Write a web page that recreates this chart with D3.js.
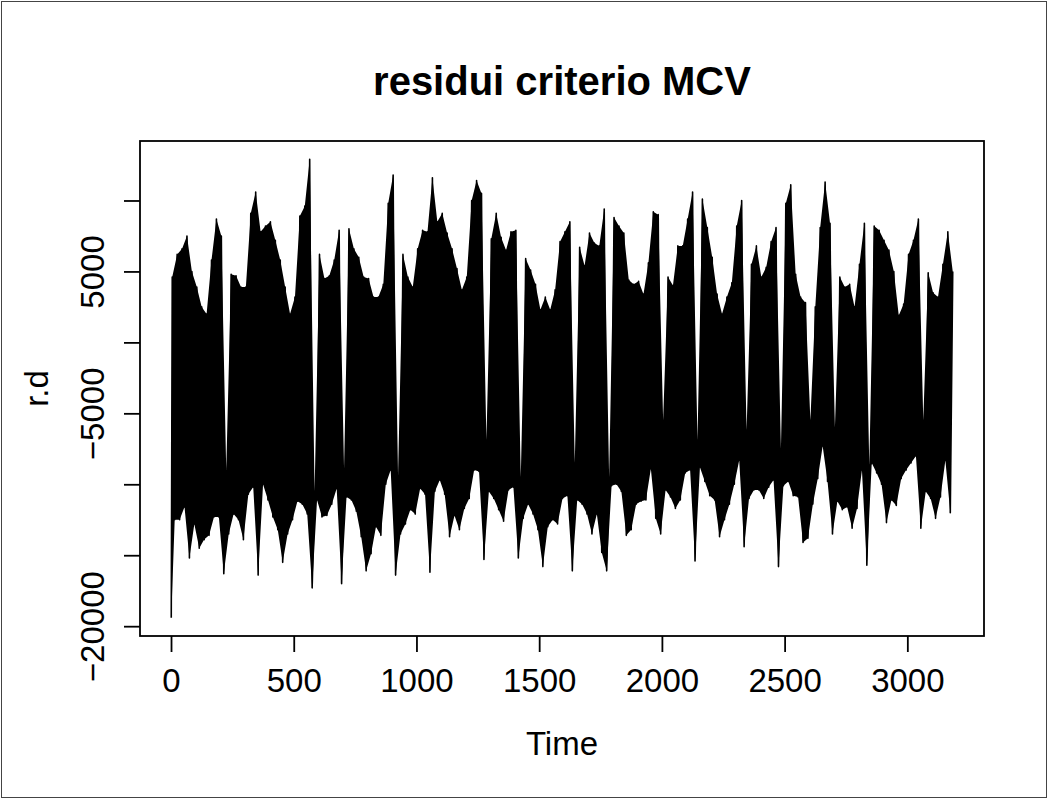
<!DOCTYPE html>
<html>
<head>
<meta charset="utf-8">
<script src="https://cdn.jsdelivr.net/npm/d3@7"></script>
<style>
body { margin: 0; background: #fff; }
svg { display: block; font-family: "Liberation Sans", Arial, Helvetica, sans-serif; }
</style>
</head>
<body>
<script>
// residui r.d: massimo e minimo ogni 20 osservazioni (in migliaia)
var peaks = [4.6, 6.2, 6.6, 7.5, 5.0, 3.9, 2.5, 2.0, 5.8, 8.7,
    7.5, -9.0, 4.8, 4.7, 3.9, 3.9, 9.1, 10.6, 7.8, 8.2,
    8.5, 7.2, 5.8, 3.9, 2.0, 3.2, 8.9, 9.6, 12.9, -10.5,
    6.2, 4.5, 4.7, 5.8, 7.9, -8.9, 8.0, 6.6, 6.0, 4.6,
    4.5, 3.2, 3.2, 4.1, 9.8, 11.8, -9.4, 6.2, 4.6, 3.9,
    6.6, 7.9, 7.8, 11.6, 8.5, 9.1, 7.7, 6.6, 5.2, 3.7,
    4.6, 10.0, 11.4, 10.5, -6.9, 7.3, 9.1, 7.4, 6.5, 7.8,
    7.9, -9.5, 5.9, 5.1, 4.1, 2.3, 3.2, 2.3, 3.7, 7.1,
    7.8, 8.5, -8.5, 6.7, 5.4, 7.7, 7.0, 6.8, 9.4, -9.5,
    8.8, 8.2, 7.7, 4.4, 4.1, 4.3, 3.4, 5.6, 9.2, 9.0,
    -5.5, 4.6, 4.0, 6.8, 6.8, 8.7, 10.6, -6.9, 10.1, 8.1,
    6.0, 3.4, 2.0, 3.2, 4.2, 8.2, 10.0, -6.2, 5.5, 6.8,
    4.6, 5.3, 7.1, 8.1, -7.5, 9.8, 11.1, 4.8, 3.2, 2.8,
    -5.5, 2.5, 8.1, 11.3, 8.4, -6.0, 4.6, 3.9, 4.1, 2.5,
    5.5, 8.4, -8.7, 8.2, 7.9, 7.2, 6.5, 5.0, 1.9, 2.7,
    6.2, 7.2, 8.7, -5.5, 4.9, 3.5, 3.2, 5.5, 7.8, 5.0
];
var troughs = [-19.4, -12.5, -12.5, -11.6, -15.2, -12.8, -14.5, -13.9, -13.6, -12.3,
    -12.3, -16.3, -13.5, -12.1, -12.5, -13.9, -10.7, -10.2, -16.4, -10.0,
    -11.1, -12.3, -13.2, -15.5, -13.5, -12.5, -11.2, -11.4, -12.1, -17.3,
    -11.1, -12.3, -12.2, -11.4, -10.3, -17.0, -10.9, -11.1, -11.9, -13.7,
    -16.1, -14.9, -13.0, -13.6, -10.0, -9.0, -16.4, -13.5, -12.8, -11.8,
    -12.1, -10.3, -10.7, -16.2, -10.5, -9.7, -10.7, -13.7, -12.2, -13.2,
    -11.7, -11.0, -9.0, -9.1, -15.3, -10.5, -11.0, -11.8, -12.6, -10.4,
    -10.2, -15.2, -12.4, -11.4, -12.1, -13.2, -15.8, -13.0, -12.5, -12.8,
    -11.0, -10.8, -16.1, -11.1, -11.4, -12.1, -13.5, -12.1, -14.8, -16.1,
    -10.1, -10.0, -10.5, -13.6, -13.2, -11.4, -11.2, -11.1, -8.9, -12.4,
    -13.5, -10.4, -10.9, -11.7, -11.1, -9.2, -9.0, -15.4, -8.8, -9.8,
    -10.8, -11.1, -13.7, -12.5, -11.4, -10.0, -8.3, -14.4, -11.0, -10.4,
    -10.4, -11.0, -10.2, -9.7, -15.8, -10.1, -9.8, -10.8, -10.9, -14.1,
    -13.8, -11.4, -9.6, -7.3, -9.8, -13.5, -11.2, -11.8, -11.6, -13.1,
    -11.7, -9.0, -15.7, -8.5, -9.2, -10.0, -12.7, -11.1, -11.5, -9.6,
    -9.0, -8.5, -8.0, -13.1, -10.5, -11.0, -12.4, -10.9, -8.3, -12.0
];
var step = 20;

var xTicks = [0, 500, 1000, 1500, 2000, 2500, 3000];
var xTickLabels = ["0", "500", "1000", "1500", "2000", "2500", "3000"];
var yTicks = [-20000, -15000, -10000, -5000, 0, 5000, 10000];
var yTickLabels = ["\u221220000", "", "", "\u22125000", "", "5000", ""];

var width = 1048;
var height = 799;
var box = {left: 140, right: 984, top: 141, bottom: 636};

// serie a zig-zag: minimo poi massimo per ogni blocco
var series = [];
var band = [];
peaks.forEach(function (p, i) {
    var tl = Math.max(1, i * step - 5);
    var th = i * step + 5;
    series.push({t: tl, v: troughs[i] * 1000});
    series.push({t: th, v: p * 1000});
    band.push({tl: tl, lo: troughs[i] * 1000, th: th, hi: p * 1000});
});

// come R: dominio allargato del 4%
var tExt = d3.extent(series, function (d) { return d.t; });
var vExt = d3.extent(series, function (d) { return d.v; });
var tPad = 0.04 * (tExt[1] - tExt[0]);
var vPad = 0.04 * (vExt[1] - vExt[0]);

var x = d3.scaleLinear()
    .domain([tExt[0] - tPad, tExt[1] + tPad])
    .range([box.left, box.right]);
var y = d3.scaleLinear()
    .domain([vExt[0] - vPad, vExt[1] + vPad])
    .range([box.bottom, box.top]);

var svg = d3.select('body')
    .append('svg')
    .attr('width', width)
    .attr('height', height);

svg.append('rect')
    .attr('x', 0).attr('y', 0)
    .attr('width', width).attr('height', height)
    .attr('fill', 'white');

// cornice esterna
svg.append('rect')
    .attr('x', 1.5).attr('y', 1.5)
    .attr('width', width - 3).attr('height', height - 3)
    .attr('fill', 'none')
    .attr('stroke', '#444')
    .attr('stroke-width', 1);

var area = d3.area()
    .x0(function (d) { return x(d.tl); })
    .y0(function (d) { return y(d.lo); })
    .x1(function (d) { return x(d.th); })
    .y1(function (d) { return y(d.hi); });

svg.append('path')
    .datum(band)
    .attr('d', area)
    .attr('fill', 'black');

var line = d3.line()
    .x(function (d) { return x(d.t); })
    .y(function (d) { return y(d.v); });

svg.append('path')
    .datum(series)
    .attr('d', line)
    .attr('fill', 'none')
    .attr('stroke', 'black')
    .attr('stroke-width', 1.6)
    .attr('stroke-linejoin', 'round');

svg.append('rect')
    .attr('x', box.left).attr('y', box.top)
    .attr('width', box.right - box.left)
    .attr('height', box.bottom - box.top)
    .attr('fill', 'none')
    .attr('stroke', 'black')
    .attr('stroke-width', 1.8);

var xAxis = svg.append('g')
    .attr('transform', 'translate(0,' + box.bottom + ')')
    .call(d3.axisBottom(x)
        .tickValues(xTicks)
        .tickSize(16)
        .tickFormat(function (d, i) { return xTickLabels[i]; }));
xAxis.select('.domain').remove();
xAxis.selectAll('line').attr('stroke', 'black').attr('stroke-width', 1.8);
xAxis.selectAll('text')
    .attr('y', 56)
    .attr('dy', null)
    .attr('fill', 'black')
    .attr('font-size', '33px')
    .attr('font-family', '"Liberation Sans", Arial, sans-serif');

var yAxis = svg.append('g')
    .attr('transform', 'translate(' + box.left + ',0)')
    .call(d3.axisLeft(y)
        .tickValues(yTicks)
        .tickSize(16)
        .tickFormat(function (d, i) { return yTickLabels[i]; }));
yAxis.select('.domain').remove();
yAxis.selectAll('line').attr('stroke', 'black').attr('stroke-width', 1.8);
yAxis.selectAll('text')
    .attr('x', null)
    .attr('dy', null)
    .attr('text-anchor', 'middle')
    .attr('transform', 'translate(-36,0) rotate(-90)')
    .attr('fill', 'black')
    .attr('font-size', '33px')
    .attr('font-family', '"Liberation Sans", Arial, sans-serif');

svg.append('text')
    .attr('x', (box.left + box.right) / 2)
    .attr('y', 95)
    .attr('text-anchor', 'middle')
    .attr('font-size', '40px')
    .attr('font-weight', 'bold')
    .text('residui criterio MCV');

svg.append('text')
    .attr('x', (box.left + box.right) / 2)
    .attr('y', 755)
    .attr('text-anchor', 'middle')
    .attr('font-size', '33px')
    .text('Time');

svg.append('text')
    .attr('transform', 'translate(48,' + (box.top + box.bottom) / 2 + ') rotate(-90)')
    .attr('text-anchor', 'middle')
    .attr('font-size', '33px')
    .text('r.d');
</script>
</body>
</html>
